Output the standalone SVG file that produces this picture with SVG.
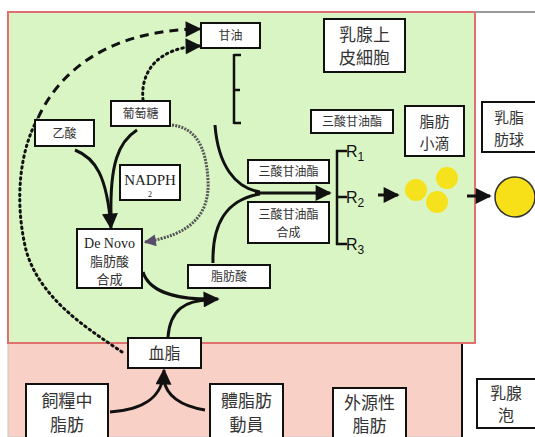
<svg xmlns="http://www.w3.org/2000/svg" width="535" height="437" viewBox="0 0 535 437">
<defs>
<style>
.box{fill:#fff;stroke:#111;stroke-width:2}
.t{font-family:"Noto Sans CJK TC","Noto Sans CJK SC",sans-serif;fill:#333;text-anchor:middle}
.s{font-family:"Liberation Serif",serif;fill:#222;text-anchor:middle}
.r{font-family:"Liberation Sans",Arial,sans-serif;fill:#111;font-size:16px}
.ln{fill:none;stroke:#111;stroke-width:3}
</style>
<marker id="ahb" viewBox="0 0 10 10" refX="9" refY="5" markerWidth="18" markerHeight="16" markerUnits="userSpaceOnUse" orient="auto">
<path d="M0,0 L10,5 L0,10 z" fill="#111"/>
</marker>
<marker id="ahg" viewBox="0 0 10 10" refX="9" refY="5" markerWidth="14" markerHeight="12" markerUnits="userSpaceOnUse" orient="auto">
<path d="M0,0 L10,5 L0,10 z" fill="#554d6a"/>
</marker>
</defs>
<rect x="0" y="0" width="535" height="437" fill="#fff"/>
<g id="background">
<rect x="8" y="343" width="454" height="94" fill="#f9d0c6" stroke="#c8c8c8" stroke-width="1"/>
<line x1="462" y1="343" x2="462" y2="437" stroke="#111" stroke-width="2"/>
<rect x="8" y="12" width="467" height="331" fill="#d9f5c4" stroke="#e07070" stroke-width="2"/>
<line x1="475" y1="12" x2="535" y2="12" stroke="#999" stroke-width="2"/>
</g>
<g id="connectors">
<path d="M122,352 C90,330 40,300 26,250 C14,200 20,150 38,118" fill="none" stroke="#111" stroke-width="3" stroke-dasharray="1.5 4" stroke-linecap="round"/>
<path d="M38,118 C60,70 110,30 200,29" fill="none" stroke="#111" stroke-width="3" stroke-dasharray="9 6" marker-end="url(#ahb)"/>
<path d="M143,100 C140,70 160,47 200,46" fill="none" stroke="#111" stroke-width="3" stroke-dasharray="1.5 4" stroke-linecap="round" marker-end="url(#ahb)"/>
<path d="M172,125 C195,128 206,145 208,180 C210,215 190,235 145,242" fill="none" stroke="#555" stroke-width="3" stroke-dasharray="2 1.2" marker-end="url(#ahg)"/>
<path d="M75,150 C95,158 107,175 111,228" class="ln" marker-end="url(#ahb)"/>
<path d="M137,130 C118,142 110,165 111,215" class="ln"/>
<path d="M143,272 C150,295 185,300 218,299" class="ln" marker-end="url(#ahb)"/>
<path d="M168,337 C170,310 185,300 210,300" class="ln"/>
<path d="M110,412 C140,410 163,400 164,370" class="ln" marker-end="url(#ahb)"/>
<path d="M205,410 C180,406 166,395 164,380" class="ln"/>
<path d="M213,263 C212,225 225,200 260,194" class="ln"/>
<path d="M215,125 C218,165 235,188 260,192" class="ln"/>
<path d="M255,193 L330,193" class="ln" marker-end="url(#ahb)"/>
<path d="M234,54 L234,124 M234,55 L241,55 M234,90 L240,90 M234,123 L241,123" fill="none" stroke="#111" stroke-width="2.5"/>
<path d="M337,150 L337,245 M336,151 L347,151 M337,197 L347,197 M336,244 L347,244" fill="none" stroke="#111" stroke-width="2.5"/>
<line x1="378" y1="195" x2="398" y2="195" stroke="#111" stroke-width="3" marker-end="url(#ahb)"/>
<line x1="467" y1="196" x2="490" y2="196" stroke="#111" stroke-width="3" marker-end="url(#ahb)"/>
</g>
<g id="r-labels">
<text class="r" x="346" y="157">R<tspan font-size="12" dy="4">1</tspan></text>
<text class="r" x="346" y="203">R<tspan font-size="12" dy="4">2</tspan></text>
<text class="r" x="346" y="250">R<tspan font-size="12" dy="4">3</tspan></text>
</g>
<g id="droplets">
<circle cx="416" cy="190" r="11" fill="#f5e21c"/>
<circle cx="447" cy="178" r="11" fill="#f5e21c"/>
<circle cx="437" cy="202" r="11" fill="#f5e21c"/>
</g>
<g id="globule">
<circle cx="515" cy="197" r="20" fill="#f7e017" stroke="#333" stroke-width="1.5"/>
</g>
<g id="n-glycerol"><rect class="box" x="201" y="23" width="59" height="25"/><text class="t" x="230.5" y="40" font-size="12">甘油</text></g>
<g id="n-cell"><rect class="box" x="324" y="19" width="81" height="53"/><text class="t" x="364.5" y="41" font-size="17">乳腺上</text><text class="t" x="364.5" y="64" font-size="17">皮細胞</text></g>
<g id="n-glucose"><rect class="box" x="111" y="101" width="59" height="25"/><text class="t" x="140.5" y="118" font-size="12">葡萄糖</text></g>
<g id="n-acetate"><rect class="box" x="35" y="120" width="59" height="26"/><text class="t" x="64.5" y="138" font-size="12">乙酸</text></g>
<g id="n-nadph"><rect class="box" x="120" y="165" width="60" height="35"/><text class="s" x="150" y="185" font-size="15">NADPH</text><text class="s" x="150" y="197" font-size="8">2</text></g>
<g id="n-denovo"><rect class="box" x="77" y="229" width="65" height="59"/><text class="s" x="109.5" y="248" font-size="14">De Novo</text><text class="t" x="109.5" y="266" font-size="13">脂肪酸</text><text class="t" x="109.5" y="284" font-size="13">合成</text></g>
<g id="n-fa"><rect class="box" x="188" y="265" width="82" height="23"/><text class="t" x="229" y="281" font-size="12">脂肪酸</text></g>
<g id="n-blood"><rect class="box" x="128" y="338" width="73" height="30"/><text class="t" x="164.5" y="359" font-size="16">血脂</text></g>
<g id="n-diet"><rect class="box" x="26" y="384" width="82" height="56"/><text class="t" x="67" y="407" font-size="17">飼糧中</text><text class="t" x="67" y="431" font-size="17">脂肪</text></g>
<g id="n-body"><rect class="box" x="210" y="384" width="73" height="56"/><text class="t" x="246.5" y="407" font-size="17">體脂肪</text><text class="t" x="246.5" y="431" font-size="17">動員</text></g>
<g id="n-exo"><rect class="box" x="333" y="388" width="73" height="52"/><text class="t" x="369.5" y="409" font-size="17">外源性</text><text class="t" x="369.5" y="432" font-size="17">脂肪</text></g>
<g id="n-alveolus"><rect class="box" x="477" y="379" width="60" height="49"/><text class="t" x="506" y="399" font-size="16">乳腺</text><text class="t" x="506" y="421" font-size="16">泡</text></g>
<g id="n-tg1"><rect class="box" x="311" y="110" width="82" height="23"/><text class="t" x="352" y="126" font-size="12">三酸甘油酯</text></g>
<g id="n-tg2"><rect class="box" x="248" y="160" width="81" height="23"/><text class="t" x="288.5" y="176" font-size="12">三酸甘油酯</text></g>
<g id="n-tgsyn"><rect class="box" x="248" y="202" width="81" height="41"/><text class="t" x="288.5" y="219" font-size="12">三酸甘油酯</text><text class="t" x="288.5" y="237" font-size="12">合成</text></g>
<g id="n-droplet"><rect class="box" x="405" y="106" width="59" height="50"/><text class="t" x="434.5" y="127" font-size="15">脂肪</text><text class="t" x="434.5" y="149" font-size="15">小滴</text></g>
<g id="n-globule"><rect class="box" x="482" y="102" width="56" height="50"/><text class="t" x="509" y="123" font-size="15">乳脂</text><text class="t" x="509" y="145" font-size="15">肪球</text></g>
</svg>
